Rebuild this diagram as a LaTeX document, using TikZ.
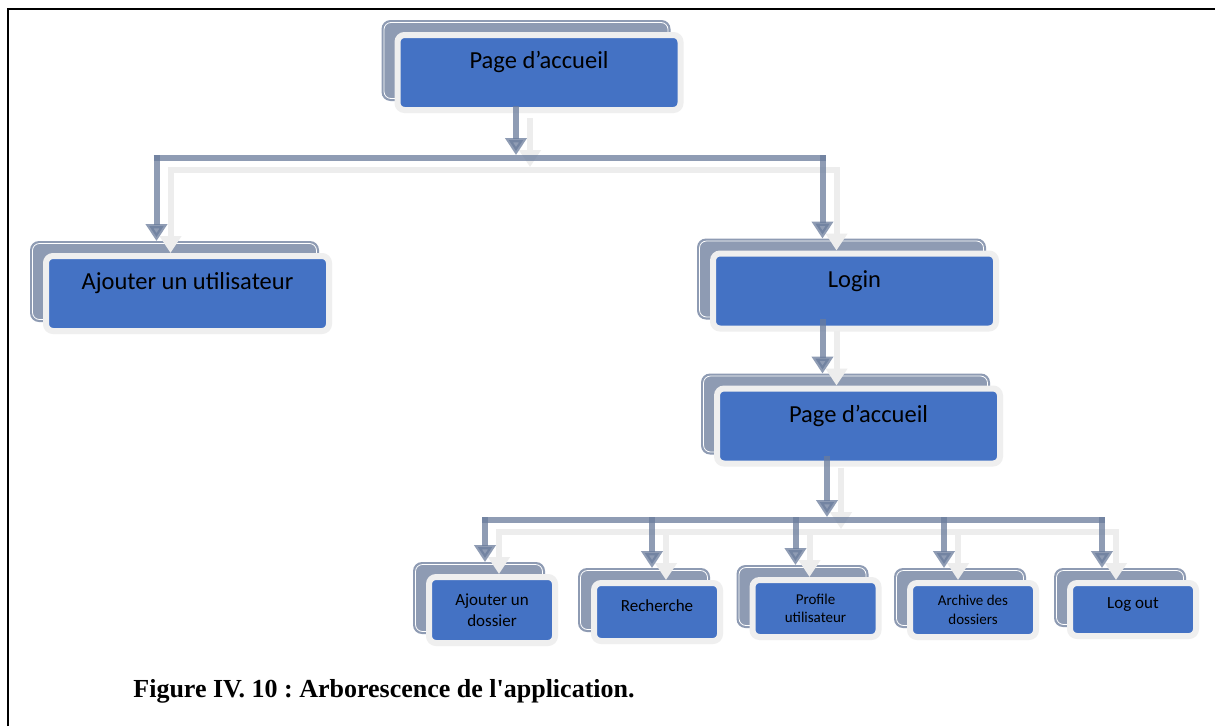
\documentclass[tikz,border=0pt]{standalone}
\usepackage{fontspec}
\setmainfont{Carlito}
\newfontfamily\capfont[Ligatures=TeXOff]{Liberation Serif}
\usetikzlibrary{arrows.meta,calc,backgrounds}
\definecolor{boxblue}{HTML}{4472C4}
\definecolor{backgray}{HTML}{8E9BB3}
\definecolor{rimgray}{HTML}{EFEFEF}
\definecolor{linkdark}{HTML}{6A7C9C}
\definecolor{linklight}{HTML}{EDEDED}
\frenchspacing

% all connectors of the tree, drawn once per layer style
\newcommand\treelinks[1]{%
  % first level
  \draw[#1,-] ($(tU |- j1)+(-3,0)$) -- ($(tL |- j1)+(3,0)$);
  \draw[#1] ($(top.south -| j1)+(0,-4)$) -- ($(j1)+(0,-3)$);
  \draw[#1] ($(tU |- j1)+(0,-3)$) -- (tU);
  \draw[#1] ($(tL |- j1)+(0,-3)$) -- (tL);
  % login to second home page
  \draw[#1] ($(login.south -| tH)+(0,-10)$) -- (tH);
  % second level
  \draw[#1,-] ($(tA |- j2)+(-3,0)$) -- ($(tO |- j2)+(3,0)$);
  \draw[#1] ($(home.south -| j2)+(0,-8)$) -- ($(j2)+(0,-3)$);
  \foreach \t in {tA,tS,tP,tR,tO}{
    \draw[#1] ($(\t |- j2)+(0,-3)$) -- (\t);
  }
}

\begin{document}
\begin{tikzpicture}[x=1pt,y=-1pt,
  card/.style={draw=rimgray, line width=6pt, fill=boxblue, rounded corners=7pt,
    outer sep=0pt, inner sep=0pt, text=black, align=center},
  bigcard/.style={card, minimum width=283pt, minimum height=75pt,
    font=\fontsize{24.5}{28}\selectfont, text height=16pt, text depth=24pt},
  smallcard/.style={card, minimum width=126pt, minimum height=56pt,
    font=\fontsize{17}{21}\selectfont},
  oneline/.style={text height=12pt, text depth=14pt},
  tinytext/.style={font=\fontsize{15}{18.5}\selectfont},
  backcard/.style={fill=backgray, rounded corners=9pt},
  backrim/.style={draw=white, line width=0.8pt, rounded corners=7pt},
  link/.style={line width=6pt, -{Triangle[width=21pt,length=17pt]}},
  darklink/.style={link, draw=linkdark, opacity=0.75},
  lightlink/.style={link, draw=linklight},
]
\useasboundingbox (0,0) rectangle (1215,726);

% boxes
\node[bigcard] (top) at (539,72.5) {Page d’accueil};
\node[bigcard] (adduser) at (187.5,293.5) {Ajouter un utilisateur};
\node[bigcard] (login) at (854.5,291) {Login};
\node[bigcard] (home) at (858.5,426) {Page d’accueil};
\node[smallcard, minimum height=66pt] (adddoc) at (492,610) {Ajouter un\\dossier};
\node[smallcard, oneline, minimum height=58pt] (search) at (657,612) {Recherche};
\node[smallcard, tinytext, minimum height=57pt] (profile) at (815.5,608.5) {Profile\\utilisateur};
\node[smallcard, tinytext, minimum height=54pt] (archive) at (973,610) {Archive des\\dossiers};
\node[smallcard, oneline, minimum height=53pt] (logout) at (1133,609.5) {Log out};

% stacked cards behind each box
\begin{scope}[on background layer]
  \fill[white] (0,0) rectangle (1215,726);
  \foreach \n in {top,adduser,login,home,adddoc,search,profile,archive,logout}{
    \path[backcard] ($(\n.north west)+(-16,-15)$) rectangle ($(\n.south east)+(-10,-9)$);
    \path[backrim] ($(\n.north west)+(-13.5,-12.5)$) rectangle ($(\n.south east)+(-12.5,-11.5)$);
  }
\end{scope}

% junctions of the two horizontal bars
\coordinate (j1) at (516,158);
\coordinate (j2) at (827,520);
% arrow tips on the stacked cards
\coordinate (tU) at ($(adduser.north)+(-31,-15)$);
\coordinate (tL) at ($(login.north)+(-32,-15)$);
\coordinate (tH) at ($(home.north)+(-36,-15)$);
\coordinate (tA) at ($(adddoc.north)+(-7,-15)$);
\coordinate (tS) at ($(search.north)+(-5,-15)$);
\coordinate (tP) at ($(profile.north)+(-20,-15)$);
\coordinate (tR) at ($(archive.north)+(-29,-15)$);
\coordinate (tO) at ($(logout.north)+(-31,-15)$);

% connectors: pale offset copy, then the dark one
\begin{scope}[transform canvas={shift={(14pt,-12pt)}}]
  \treelinks{lightlink}
\end{scope}
\treelinks{darklink}

% frame
\draw[line width=2pt] (8,726) -- (8,9) -- (1215,9);

% caption
\node[font=\capfont\bfseries\fontsize{26}{31}\selectfont] (caption) at (384,691)
  {Figure IV. 10 : Arborescence de l'application.};
\end{tikzpicture}
\end{document}
